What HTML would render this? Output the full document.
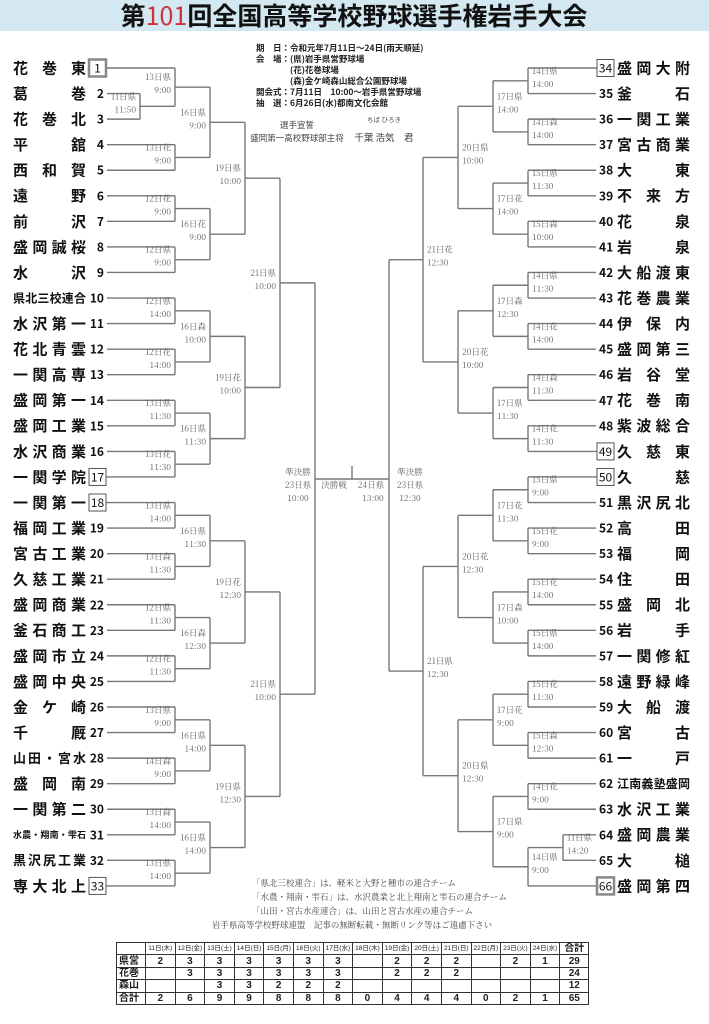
<!DOCTYPE html>
<html><head><meta charset="utf-8"><style>
html,body{margin:0;padding:0;background:#fff;}
body{width:709px;height:1024px;position:relative;overflow:hidden;font-family:"Liberation Sans","Noto Sans CJK JP",sans-serif;}
#t{position:absolute;left:116px;top:942px;border-collapse:collapse;border:1.5px solid #222;font-size:8px;}
#t td{border:1px solid #333;padding:0;height:11.4px;text-align:center;line-height:11px;font-size:10px;font-weight:bold;color:#222;width:28.6px;}
#t tr:first-child td{font-size:6.5px;font-weight:normal;}
#t td:first-child{width:26px;text-align:left;padding-left:2px;font-size:10px;}
#t td:last-child{width:28px;}
</style></head><body>
<svg id="s" width="709" height="1024" viewBox="0 0 709 1024" xmlns="http://www.w3.org/2000/svg" style="position:absolute;left:0;top:0">
<rect x="0" y="0" width="709" height="31" fill="#d3e8f1"/>
<text x="354" y="25" text-anchor="middle" font-family="'Noto Sans CJK JP',sans-serif" font-weight="bold" font-size="25" fill="#111">第<tspan fill="#d0303a" font-weight="normal">101</tspan>回全国高等学校野球選手権岩手大会</text>
<g font-family="'Noto Sans CJK JP',sans-serif" font-size="8.5" font-weight="bold" fill="#222">
<text x="256" y="51">期　日：令和元年7月11日～24日(雨天順延)</text>
<text x="256" y="62">会　場：(県)岩手県営野球場</text>
<text x="256" y="73">　　　　(花)花巻球場</text>
<text x="256" y="84">　　　　(森)金ケ崎森山総合公園野球場</text>
<text x="256" y="95">開会式：7月11日　10:00～岩手県営野球場</text>
<text x="256" y="106">抽　選：6月26日(水)都南文化会館</text>
</g>
<g font-family="'Noto Sans CJK JP',sans-serif" fill="#444">
<text x="297" y="128" font-size="8.5" text-anchor="middle">選手宣誓</text>
<text x="384" y="122" font-size="6.5" text-anchor="middle">ちば ひろき</text>
<text x="297" y="141" font-size="8.5" text-anchor="middle">盛岡第一高校野球部主将</text>
<text x="384" y="141" font-size="9.5" text-anchor="middle">千葉 浩気　君</text>
</g>
<g font-family="'Noto Serif CJK SC',serif" fill="#444" font-size="8.5">
<text x="252" y="886">「県北三校連合」は、軽米と大野と種市の連合チーム</text>
<text x="252" y="900">「水農・翔南・雫石」は、水沢農業と北上翔南と雫石の連合チーム</text>
<text x="252" y="914">「山田・宮古水産連合」は、山田と宮古水産の連合チーム</text>
<text x="352" y="928" text-anchor="middle">岩手県高等学校野球連盟　記事の無断転載・無断リンク等はご遠慮下さい</text>
</g>
<g id="lines" stroke="#777" stroke-width="1.4" fill="none"></g>
<g id="labels" font-family="'Noto Serif CJK SC',serif" font-size="8.5" fill="#666"></g>
<g id="teams" font-family="'Noto Sans CJK JP',sans-serif" font-weight="bold" fill="#111"></g>
</svg>
<table id="t">
<tr><td></td><td>11日(木)</td><td>12日(金)</td><td>13日(土)</td><td>14日(日)</td><td>15日(月)</td><td>16日(火)</td><td>17日(水)</td><td>18日(木)</td><td>19日(金)</td><td>20日(土)</td><td>21日(日)</td><td>22日(月)</td><td>23日(火)</td><td>24日(水)</td><td style="font-size:10px;font-weight:bold">合計</td></tr>
<tr><td>県営</td><td>2</td><td>3</td><td>3</td><td>3</td><td>3</td><td>3</td><td>3</td><td></td><td>2</td><td>2</td><td>2</td><td></td><td>2</td><td>1</td><td>29</td></tr>
<tr><td>花巻</td><td></td><td>3</td><td>3</td><td>3</td><td>3</td><td>3</td><td>3</td><td></td><td>2</td><td>2</td><td>2</td><td></td><td></td><td></td><td>24</td></tr>
<tr><td>森山</td><td></td><td></td><td>3</td><td>3</td><td>2</td><td>2</td><td>2</td><td></td><td></td><td></td><td></td><td></td><td></td><td></td><td>12</td></tr>
<tr><td>合計</td><td>2</td><td>6</td><td>9</td><td>9</td><td>8</td><td>8</td><td>8</td><td>0</td><td>4</td><td>4</td><td>4</td><td>0</td><td>2</td><td>1</td><td>65</td></tr>
</table>
<script>
var NS="http://www.w3.org/2000/svg";
function el(p,tag,a,txt){var e=document.createElementNS(NS,tag);for(var k in a)e.setAttribute(k,a[k]);if(txt!=null)e.textContent=txt;document.getElementById(p).appendChild(e);return e;}
function ln(x1,y1,x2,y2){el("lines","line",{x1:x1,y1:y1,x2:x2,y2:y2});}
var names={1:"花巻東",2:"葛巻",3:"花巻北",4:"平舘",5:"西和賀",6:"遠野",7:"前沢",8:"盛岡誠桜",9:"水沢",10:"県北三校連合",11:"水沢第一",12:"花北青雲",13:"一関高専",14:"盛岡第一",15:"盛岡工業",16:"水沢商業",17:"一関学院",18:"一関第一",19:"福岡工業",20:"宮古工業",21:"久慈工業",22:"盛岡商業",23:"釜石商工",24:"盛岡市立",25:"盛岡中央",26:"金ケ崎",27:"千厩",28:"山田・宮水",29:"盛岡南",30:"一関第二",31:"水農・翔南・雫石",32:"黒沢尻工業",33:"専大北上",
34:"盛岡大附",35:"釜石",36:"一関工業",37:"宮古商業",38:"大東",39:"不来方",40:"花泉",41:"岩泉",42:"大船渡東",43:"花巻農業",44:"伊保内",45:"盛岡第三",46:"岩谷堂",47:"花巻南",48:"紫波総合",49:"久慈東",50:"久慈",51:"黒沢尻北",52:"高田",53:"福岡",54:"住田",55:"盛岡北",56:"岩手",57:"一関修紅",58:"遠野緑峰",59:"大船渡",60:"宮古",61:"一戸",62:"江南義塾盛岡",63:"水沢工業",64:"盛岡農業",65:"大槌",66:"盛岡第四"};
var boxed={1:2,17:1,18:1,33:1,34:1,49:1,50:1,66:2};
function ty(i){return 68+((i<=33?i-1:i-34))*25.56;}
function fs(n){var l=n.length;return l>=7?9:l>=6?12:l==5?13:15;}
for(var i=1;i<=66;i++){
 var y=ty(i),left=i<=33,n=names[i],f=fs(n);
 var nx=left?13:617;
 el("teams","text",{x:nx,y:y+f*0.36,"font-size":f,textLength:left?73:73,lengthAdjust:"spacing"},n);
 if(boxed[i]){
  var bx=left?89:597;
  el("teams","rect",{x:bx,y:y-8.5,width:17,height:17,fill:"#fff",stroke:boxed[i]==2?"#888":"#555","stroke-width":boxed[i]==2?2.5:1});
  el("teams","text",{x:bx+8.5,y:y+4.5,"font-size":12,"font-weight":"normal","text-anchor":"middle"},i);
 }else{
  el("teams","text",{x:left?104:599,y:y+4.5,"font-size":12,"text-anchor":left?"end":"start"},i);
 }
}
function M(x,d,t,a,b){return {x:x,d:d,t:t,a:a,b:b};}
function draw(n,left){
 if(typeof n=="number")return {y:ty(n),x:left?(boxed[n]?106:107):(boxed[n]?597:596)};
 var A=draw(n.a,left),B=draw(n.b,left);
 ln(A.x,A.y,n.x,A.y);ln(B.x,B.y,n.x,B.y);ln(n.x,A.y,n.x,B.y);
 var m=(A.y+B.y)/2;
 var lx=left?n.x-4:n.x+4,an=left?"end":"start";
 if(n.d){el("labels","text",{x:lx,y:m-7,"text-anchor":an},n.d);el("labels","text",{x:lx,y:m+6,"text-anchor":an},n.t);}
 return {x:n.x,y:m};
}
var L1=M(280,"21日県","10:00",M(245,"19日県","10:00",M(210,"16日県","9:00",M(175,"13日県","9:00",1,M(140,"11日県","11:50",2,3)),M(175,"13日花","9:00",4,5)),M(210,"16日花","9:00",M(175,"12日花","9:00",6,7),M(175,"12日県","9:00",8,9))),M(245,"19日花","10:00",M(210,"16日森","10:00",M(175,"12日県","14:00",10,11),M(175,"12日花","14:00",12,13)),M(210,"16日県","11:30",M(175,"13日県","11:30",14,15),M(175,"13日花","11:30",16,17))));
var L2=M(280,"21日県","10:00",M(245,"19日花","12:30",M(210,"16日県","11:30",M(175,"13日県","14:00",18,19),M(175,"13日森","11:30",20,21)),M(210,"16日森","12:30",M(175,"12日県","11:30",22,23),M(175,"12日花","11:30",24,25))),M(245,"19日県","12:30",M(210,"16日県","14:00",M(175,"13日県","9:00",26,27),M(175,"14日森","9:00",28,29)),M(210,"16日県","14:00",M(175,"13日森","14:00",30,31),M(175,"13日県","14:00",32,33))));
var R1=M(423,"21日花","12:30",M(458,"20日県","10:00",M(493,"17日県","14:00",M(528,"14日県","14:00",34,35),M(528,"14日森","14:00",36,37)),M(493,"17日花","14:00",M(528,"15日県","11:30",38,39),M(528,"15日森","10:00",40,41))),M(458,"20日花","10:00",M(493,"17日森","12:30",M(528,"14日県","11:30",42,43),M(528,"14日花","14:00",44,45)),M(493,"17日県","11:30",M(528,"14日森","11:30",46,47),M(528,"14日花","11:30",48,49))));
var R2=M(423,"21日県","12:30",M(458,"20日花","12:30",M(493,"17日花","11:30",M(528,"15日県","9:00",50,51),M(528,"15日花","9:00",52,53)),M(493,"17日森","10:00",M(528,"15日花","14:00",54,55),M(528,"15日県","14:00",56,57))),M(458,"20日県","12:30",M(493,"17日花","9:00",M(528,"15日花","11:30",58,59),M(528,"15日森","12:30",60,61)),M(493,"17日県","9:00",M(528,"14日花","9:00",62,63),M(528,"14日県","9:00",M(563,"11日県","14:20",64,65),66))));
draw(M(315,null,null,L1,L2),true);
draw(M(389,null,null,R1,R2),false);
ln(315,479,389,479);ln(352,466,352,479);
function lab(x,y,t,a){el("labels","text",{x:x,y:y,"text-anchor":a||"middle"},t);}
lab(298,475,"準決勝");lab(298,488,"23日県");lab(298,501,"10:00");
lab(334,488,"決勝戦");lab(371,488,"24日県");lab(373,501,"13:00");
lab(410,475,"準決勝");lab(410,488,"23日県");lab(410,501,"12:30");
</script>
</body></html>
